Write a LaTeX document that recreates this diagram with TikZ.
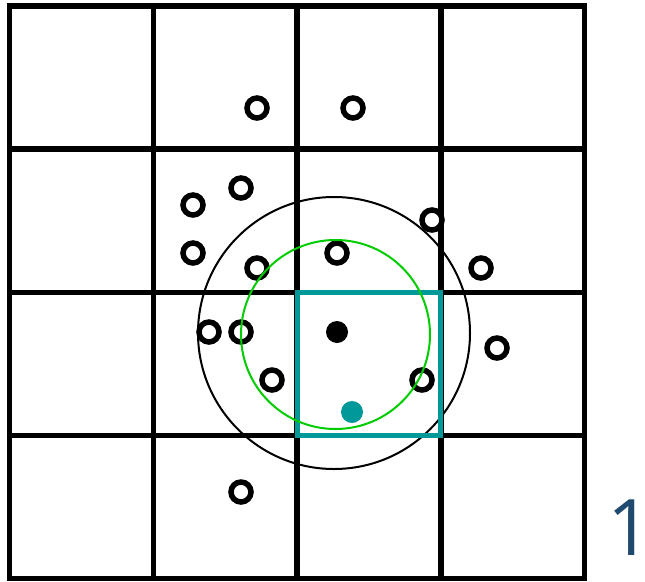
\documentclass[tikz,border=0pt]{standalone}
\usepackage{fontspec}
\setmainfont{Open Sans}
\definecolor{tealc}{RGB}{0,152,152}
\definecolor{greenc}{RGB}{0,204,0}
\definecolor{labelc}{RGB}{31,73,110}
\begin{document}
\begin{tikzpicture}[x=1pt,y=-1pt,
  gridline/.style={line width=5.5pt,line cap=rect},
  opendot/.style={circle,draw=black,fill=white,line width=5.5pt,minimum size=20pt,inner sep=0pt},
  solid dot/.style={circle,fill=black,minimum size=22pt,inner sep=0pt}]
\useasboundingbox (0,0) rectangle (645,581);
% grid
\foreach \x in {9.5,153.25,297,440.75,584.5}
  \draw[gridline] (\x,6) -- (\x,578.5);
\foreach \y in {6,149.125,292.25,435.375,578.5}
  \draw[gridline] (9.5,\y) -- (584.5,\y);
% open points
\foreach \p/\q [count=\i] in {257/108,353/108,241/188,193/205,193/253,257/268,337/253,432/220,481/268,209/332,241/332,272/380,422/380,497/348,241/492}
  \node[opendot] (o\i) at (\p,\q) {};
% circles
\draw[line width=2pt] (334,333) circle (136);
\draw[tealc,line width=5pt] (297,292.25) rectangle (440.75,435.375);
\draw[greenc,line width=2pt] (335.5,334.5) circle (94.5);
\node[solid dot] (c) at (337,332) {};
\node[solid dot,fill=tealc] (t) at (352,412) {};
\node[labelc,anchor=base,inner sep=0pt,font=\fontsize{78}{78}\selectfont] (lab) at (630,555) {\makebox[0pt][c]{1}};
\end{tikzpicture}
\end{document}
